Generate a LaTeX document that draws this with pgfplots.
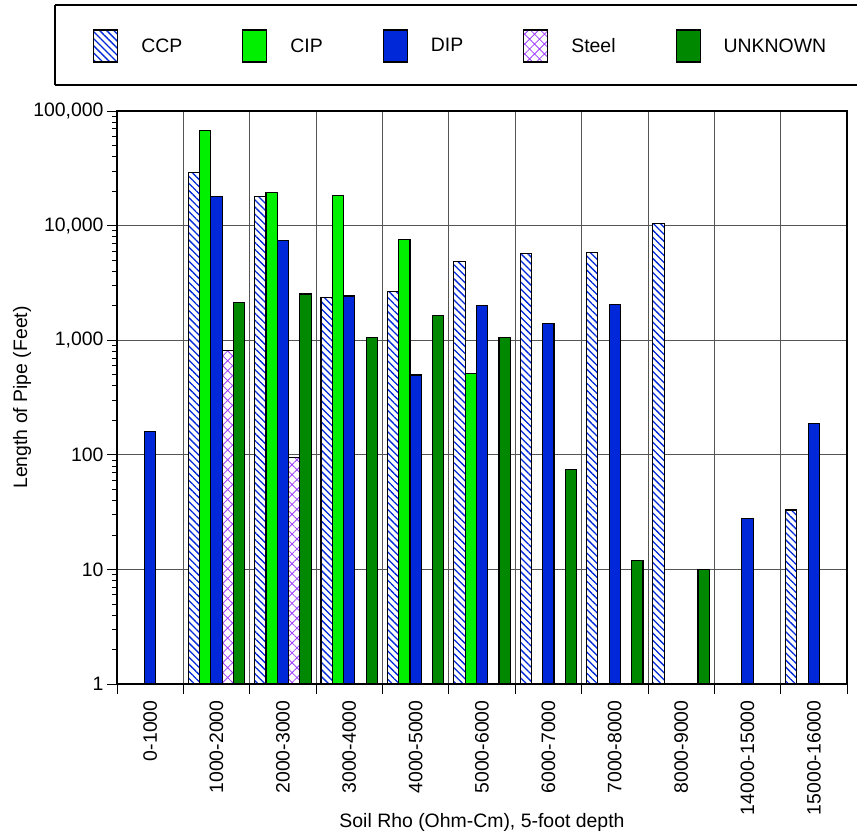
\documentclass[border=0pt]{standalone}
\usepackage{fontspec}
\setmainfont{Liberation Sans}
\usepackage{pgfplots}
\pgfplotsset{compat=1.18}
\usetikzlibrary{patterns.meta}
\definecolor{cipgreen}{HTML}{00F000}
\definecolor{dipblue}{HTML}{0028D8}
\definecolor{unkgreen}{HTML}{008800}
\definecolor{steelpurple}{HTML}{A040FF}
\definecolor{gridgray}{HTML}{555555}
\newcommand{\fs}{\fontsize{19.5}{23}\selectfont}
\begin{document}
\begin{tikzpicture}
\begin{axis}[
  scale only axis,
  width=730bp, height=573bp,
  ymode=log,
  ymin=1, ymax=100000,
  xmin=-0.5, xmax=10.5,
  ybar=0pt,
  bar width=11.3bp,
  tick align=outside,
  tick pos=left,
  major tick length=10bp,
  minor tick length=5bp,
  ytick={1,10,100,1000,10000,100000},
  yticklabels={1,10,100,{1,000},{10,000},{100,000}},
  ymajorgrids=true,
  major grid style={draw=gridgray, line width=0.7bp},
  xtick={-0.5,0.5,...,10.5},
  xticklabels={},
  xmajorgrids=true,
  x tick style={line width=0.8bp, black},
  y tick style={line width=0.7bp, black},
  extra x ticks={0,1,2,3,4,5,6,7,8,9,10},
  extra x tick labels={0-1000,1000-2000,2000-3000,3000-4000,4000-5000,5000-6000,6000-7000,7000-8000,8000-9000,14000-15000,15000-16000},
  extra x tick style={grid=none, major tick length=0pt, tick style={draw=none},
     tick label style={rotate=90, anchor=east, yshift=-0bp, xshift=-13bp}},
  tick label style={font=\fs},
  axis line style={line width=1.4bp, black},
  xlabel={Soil Rho (Ohm-Cm), 5-foot depth},
  ylabel={Length of Pipe (Feet)},
  xlabel style={font=\fs, at={(axis description cs:0.5,-0.241)}, anchor=center},
  ylabel style={font=\fs, at={(axis description cs:-0.130,0.5)}, anchor=center, rotate=0},
  legend columns=5,
  legend style={draw=none, fill=none, inner sep=0pt, font=\fs,
    at={(axis description cs:-0.0329,1.1134)}, anchor=west,
    /tikz/every odd column/.append style={column sep=21bp},
    /tikz/every even column/.append style={column sep=58bp}},
  legend image code/.code={\draw[#1] (0bp,-16bp) rectangle (24bp,16bp);},
  every axis plot/.append style={draw=black, line width=1.1bp},
]
\addplot[fill=white, postaction={pattern={Lines[angle=-45,distance=5bp,line width=1.3bp]}, pattern color=dipblue}]
  coordinates {(1,29000) (2,17800) (3,2370) (4,2670) (5,4880) (6,5730) (7,5850) (8,10400) (10,33)};
\addplot[fill=cipgreen]
  coordinates {(1,68000) (2,19400) (3,18200) (4,7600) (5,514)};
\addplot[fill=dipblue]
  coordinates {(0,160) (1,17900) (2,7350) (3,2430) (4,497) (5,2015) (6,1410) (7,2060) (9,28) (10,187)};
\addplot[fill=white, postaction={pattern={Hatch[angle=45,distance=7bp,line width=0.8bp]}, pattern color=steelpurple}]
  coordinates {(1,810) (2,95)};
\addplot[fill=unkgreen]
  coordinates {(1,2140) (2,2530) (3,1050) (4,1640) (5,1060) (6,75) (7,12) (8,10)};
\legend{CCP,CIP,DIP,Steel,UNKNOWN}
\end{axis}
\draw[line width=1.6bp] ([xshift=-62bp,yshift=26bp]current axis.north west) -- ([xshift=30bp,yshift=26bp]current axis.north east);
\draw[line width=1.6bp] ([xshift=-62bp,yshift=106bp]current axis.north west) -- ([xshift=30bp,yshift=106bp]current axis.north east);
\draw[line width=1.6bp] ([xshift=-62bp,yshift=26bp]current axis.north west) -- ([xshift=-62bp,yshift=106bp]current axis.north west);
\pgfresetboundingbox
\path ([xshift=-117bp,yshift=-152bp]current axis.south west) rectangle ([xshift=10bp,yshift=111bp]current axis.north east);
\end{tikzpicture}
\end{document}
